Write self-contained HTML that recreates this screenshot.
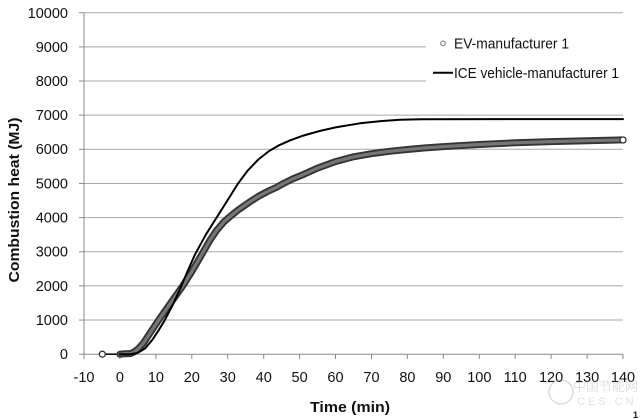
<!DOCTYPE html>
<html><head><meta charset="utf-8"><style>
html,body{margin:0;padding:0;background:#fff;}
svg{display:block;}
text{font-family:"Liberation Sans","Noto Sans CJK SC",sans-serif;fill:#111;}
</style></head><body>
<svg width="640" height="419" viewBox="0 0 640 419" xmlns="http://www.w3.org/2000/svg">
<rect width="640" height="419" fill="#fff"/>
<!-- gridlines -->
<g stroke="#a8a8a8" stroke-width="1">
<line x1="84" y1="12.7" x2="623" y2="12.7"/>
<line x1="84" y1="46.85" x2="623" y2="46.85"/>
<line x1="84" y1="81.0" x2="623" y2="81.0"/>
<line x1="84" y1="115.15" x2="623" y2="115.15"/>
<line x1="84" y1="149.3" x2="623" y2="149.3"/>
<line x1="84" y1="183.45" x2="623" y2="183.45"/>
<line x1="84" y1="217.6" x2="623" y2="217.6"/>
<line x1="84" y1="251.75" x2="623" y2="251.75"/>
<line x1="84" y1="285.9" x2="623" y2="285.9"/>
<line x1="84" y1="320.05" x2="623" y2="320.05"/>
</g>
<!-- axes -->
<g stroke="#8a8a8a" stroke-width="1">
<line x1="84" y1="12.7" x2="84" y2="354.2"/>
<line x1="84" y1="354.2" x2="623" y2="354.2"/>
<line x1="79" y1="12.7" x2="84" y2="12.7"/>
<line x1="79" y1="46.85" x2="84" y2="46.85"/>
<line x1="79" y1="81.0" x2="84" y2="81.0"/>
<line x1="79" y1="115.15" x2="84" y2="115.15"/>
<line x1="79" y1="149.3" x2="84" y2="149.3"/>
<line x1="79" y1="183.45" x2="84" y2="183.45"/>
<line x1="79" y1="217.6" x2="84" y2="217.6"/>
<line x1="79" y1="251.75" x2="84" y2="251.75"/>
<line x1="79" y1="285.9" x2="84" y2="285.9"/>
<line x1="79" y1="320.05" x2="84" y2="320.05"/>
<line x1="79" y1="354.2" x2="84" y2="354.2"/>
<line x1="84" y1="354.2" x2="84" y2="359"/>
<line x1="119.9" y1="354.2" x2="119.9" y2="359"/>
<line x1="155.9" y1="354.2" x2="155.9" y2="359"/>
<line x1="191.8" y1="354.2" x2="191.8" y2="359"/>
<line x1="227.7" y1="354.2" x2="227.7" y2="359"/>
<line x1="263.7" y1="354.2" x2="263.7" y2="359"/>
<line x1="299.6" y1="354.2" x2="299.6" y2="359"/>
<line x1="335.5" y1="354.2" x2="335.5" y2="359"/>
<line x1="371.5" y1="354.2" x2="371.5" y2="359"/>
<line x1="407.4" y1="354.2" x2="407.4" y2="359"/>
<line x1="443.3" y1="354.2" x2="443.3" y2="359"/>
<line x1="479.3" y1="354.2" x2="479.3" y2="359"/>
<line x1="515.2" y1="354.2" x2="515.2" y2="359"/>
<line x1="551.1" y1="354.2" x2="551.1" y2="359"/>
<line x1="587.1" y1="354.2" x2="587.1" y2="359"/>
<line x1="623" y1="354.2" x2="623" y2="359"/>
</g>
<!-- y tick labels -->
<g font-size="14.5" text-anchor="end">
<text x="68" y="18">10000</text>
<text x="68" y="52">9000</text>
<text x="68" y="86">8000</text>
<text x="68" y="120">7000</text>
<text x="68" y="154">6000</text>
<text x="68" y="188.5">5000</text>
<text x="68" y="222.5">4000</text>
<text x="68" y="256.5">3000</text>
<text x="68" y="291">2000</text>
<text x="68" y="325">1000</text>
<text x="68" y="359">0</text>
</g>
<!-- x tick labels -->
<g font-size="14.5" text-anchor="middle">
<text x="84" y="382">-10</text>
<text x="119.9" y="382">0</text>
<text x="155.9" y="382">10</text>
<text x="191.8" y="382">20</text>
<text x="227.7" y="382">30</text>
<text x="263.7" y="382">40</text>
<text x="299.6" y="382">50</text>
<text x="335.5" y="382">60</text>
<text x="371.5" y="382">70</text>
<text x="407.4" y="382">80</text>
<text x="443.3" y="382">90</text>
<text x="479.3" y="382">100</text>
<text x="515.2" y="382">110</text>
<text x="551.1" y="382">120</text>
<text x="587.1" y="382">130</text>
<text x="623" y="382">140</text>
</g>
<!-- axis titles -->
<text x="350" y="412" font-size="15" font-weight="bold" text-anchor="middle" textLength="80" lengthAdjust="spacingAndGlyphs">Time (min)</text>
<text transform="translate(19,200) rotate(-90)" x="0" y="0" font-size="14.5" font-weight="bold" text-anchor="middle" textLength="165" lengthAdjust="spacingAndGlyphs">Combustion heat (MJ)</text>
<!-- legend box -->
<rect x="426" y="20" width="214" height="82" fill="#fff"/>
<circle cx="443" cy="43.3" r="2.3" fill="#fff" stroke="#777" stroke-width="1"/>
<text x="454" y="48.3" font-size="15" textLength="115" lengthAdjust="spacingAndGlyphs">EV-manufacturer 1</text>
<line x1="433" y1="72.7" x2="453" y2="72.7" stroke="#000" stroke-width="2"/>
<text x="454" y="78" font-size="15" textLength="165" lengthAdjust="spacingAndGlyphs">ICE vehicle-manufacturer 1</text>
<!-- start connector -->
<line x1="102.3" y1="354.2" x2="120" y2="354.2" stroke="#111" stroke-width="1.6"/>
<!-- EV series -->
<polyline fill="none" stroke="#353535" stroke-width="7" stroke-linejoin="round" stroke-linecap="round" points="119.9,354.2 123.5,353.9 130.7,353.5 134.3,351.8 137.9,349.1 143.3,343.3 148.7,335.1 158.7,320.05 166.6,308.8 173.8,298.5 182.8,285.9 191.8,271.6 203.3,251.8 209.8,240.5 217.0,229.9 224.1,221.7 231.3,215.5 238.5,209.7 249.3,202.2 258.3,196.4 267.3,191.6 276.2,187.5 283.4,183.45 292.4,179.0 303.2,174.6 317.6,168.1 335.5,161.6 353.5,156.8 371.5,153.7 389.4,151.3 407.4,149.5 425.4,147.9 443.3,146.6 479.3,144.5 515.2,142.8 551.1,141.6 587.1,140.7 623.0,139.9"/>
<polyline fill="none" stroke="#767676" stroke-width="3.2" stroke-linejoin="round" stroke-linecap="round" points="119.9,354.2 123.5,353.9 130.7,353.5 134.3,351.8 137.9,349.1 143.3,343.3 148.7,335.1 158.7,320.05 166.6,308.8 173.8,298.5 182.8,285.9 191.8,271.6 203.3,251.8 209.8,240.5 217.0,229.9 224.1,221.7 231.3,215.5 238.5,209.7 249.3,202.2 258.3,196.4 267.3,191.6 276.2,187.5 283.4,183.45 292.4,179.0 303.2,174.6 317.6,168.1 335.5,161.6 353.5,156.8 371.5,153.7 389.4,151.3 407.4,149.5 425.4,147.9 443.3,146.6 479.3,144.5 515.2,142.8 551.1,141.6 587.1,140.7 621.0,140.0"/>
<!-- ICE series -->
<polyline fill="none" stroke="#000" stroke-width="2" stroke-linejoin="round" stroke-linecap="round" points="119.9,354.2 130.7,354.2 137.9,352.8 145.1,348.4 152.3,339.9 159.5,328.9 164.8,320.05 172.0,306.4 179.2,291.0 187.1,272.2 195.0,254.5 205.8,234.7 216.6,217.6 227.4,200.5 238.1,183.45 247.5,170.8 258.3,159.5 269.1,151.0 279.8,144.9 289.9,140.4 303.2,135.6 320.1,130.9 335.5,127.4 360.0,123.3 382.2,121.0 400.2,119.8 421.8,119.2 623.0,119.1"/>
<!-- end markers -->
<circle cx="102.3" cy="354.2" r="3" fill="#fff" stroke="#333" stroke-width="1.3"/>
<circle cx="623" cy="140" r="3" fill="#fff" stroke="#333" stroke-width="1.3"/>
<!-- watermark -->
<g opacity="0.35">
<circle cx="561" cy="392" r="12" fill="none" stroke="#999" stroke-width="1.5"/>
<text x="573" y="391" font-size="13" style="fill:#aaa">中国节能网</text>
<text x="577" y="405" font-size="11" style="fill:#aaa" letter-spacing="3">CES.CN</text>
</g>
<text x="633" y="418" font-size="9" font-weight="bold">1</text>
</svg>
</body></html>
